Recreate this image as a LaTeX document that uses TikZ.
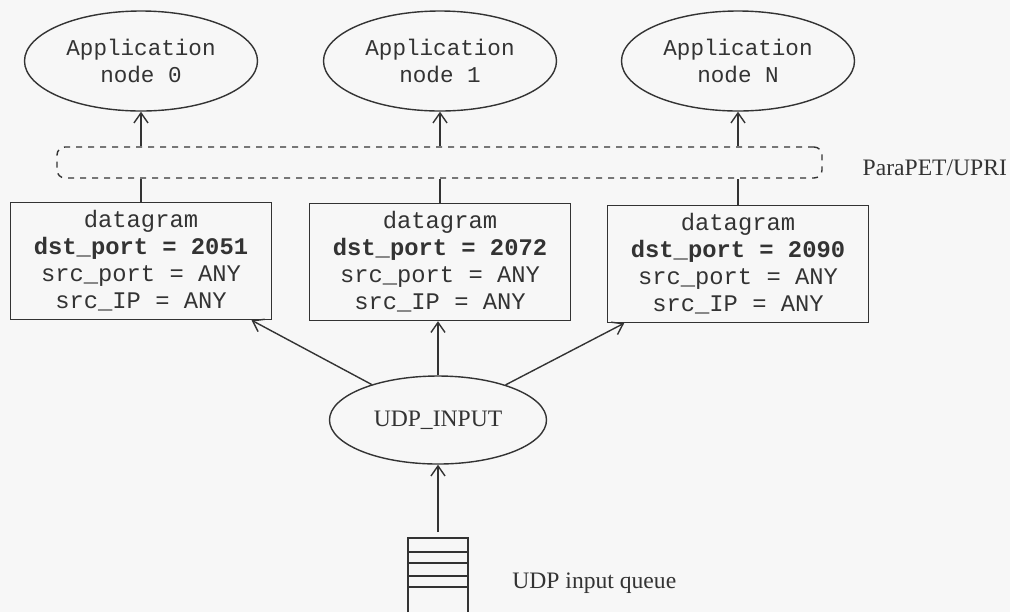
\documentclass[tikz,border=0pt]{standalone}
\usepackage{fontspec}
\setmainfont{Liberation Serif}
\setmonofont{Liberation Mono}
\usetikzlibrary{arrows.meta,shapes.geometric,positioning}

\begin{document}
\begin{tikzpicture}[x=0.5pt,y=-0.5pt,on grid,black!80,line width=0.7pt,
  >={Straight Barb[length=5pt,width=7pt]},
  app/.style={ellipse,draw,minimum width=116.5pt,minimum height=50pt,inner sep=0pt,
    align=center,font=\ttfamily\fontsize{11.3}{13.5}\selectfont},
  dgram/.style={rectangle,draw,minimum width=130.5pt,minimum height=58.5pt,inner sep=0pt,
    align=center,font=\ttfamily\fontsize{11.9}{13.5}\selectfont},
  bus/.style={rectangle,draw,dashed,rounded corners=4pt,minimum width=382.5pt,minimum height=15.5pt},
  lbl/.style={font=\fontsize{11.8}{14}\selectfont}]
\fill[black!3] (0,0) rectangle (1010,612);
\useasboundingbox (0,0) rectangle (1010,612);

\node[app] (app0) at (141,61) {Application\\node 0};
\node[app] (app1) [right=149.5pt of app0] {Application\\node 1};
\node[app] (appN) [right=149pt of app1] {Application\\node N};

\node[bus] (bus) at (439.5,162.5) {};
\node[lbl,anchor=west,inner sep=0pt] (para) at (862,168) {ParaPET/UPRI};

\node[dgram] (dg0) [below=100pt of app0] {datagram\\\textbf{dst\_port = 2051}\\src\_port = ANY\\src\_IP = ANY};
\node[dgram] (dg1) [below=100.5pt of app1] {datagram\\\textbf{dst\_port = 2072}\\src\_port = ANY\\src\_IP = ANY};
\node[dgram] (dgN) [below=101.5pt of appN] {datagram\\\textbf{dst\_port = 2090}\\src\_port = ANY\\src\_IP = ANY};

\node[ellipse,draw,minimum width=108.5pt,minimum height=44pt,inner sep=0pt,
  font=\fontsize{11.8}{14}\selectfont] (udp) at (438,420) {UDP\_INPUT};

% queue
\coordinate (qtop) at (438,538);
\draw (408,612) -- (408,538) -- (468,538) -- (468,612);
\foreach \y in {552,563,576,587}
  \draw (408,\y) -- (468,\y);
\node[lbl,anchor=west] (qlbl) at (505,583) {UDP input queue};

\draw[->] (app0 |- bus.north) -- (app0);
\draw[->] (app1 |- bus.north) -- (app1);
\draw[->] (appN |- bus.north) -- (appN);
\draw (dg0) -- (dg0 |- bus.south);
\draw (dg1) -- (dg1 |- bus.south);
\draw (dgN) -- (dgN |- bus.south);

\draw[->] (udp) -- (dg0);
\draw[->] (udp.north) -- (udp |- dg1.south);
\draw[->] (udp) -- (dgN);
\draw[->] ([yshift=3pt]qtop) -- (udp);
\end{tikzpicture}
\end{document}
